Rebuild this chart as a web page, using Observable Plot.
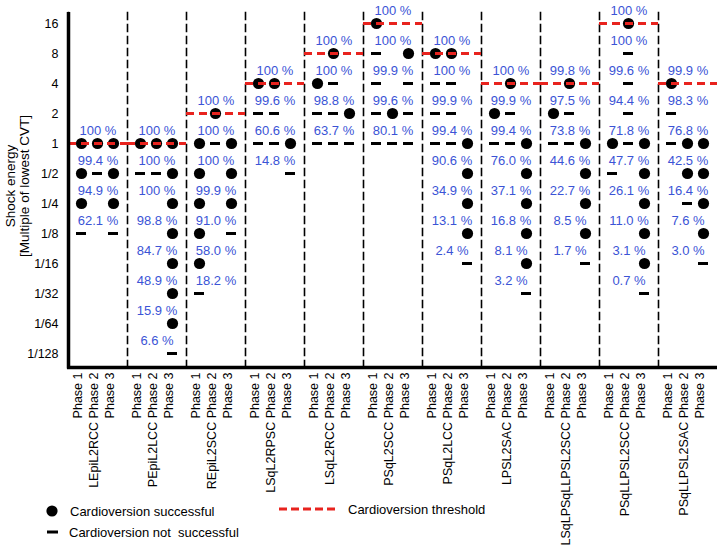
<!DOCTYPE html>
<html>
<head>
<meta charset="utf-8">
<script src="https://cdn.jsdelivr.net/npm/d3@7"></script>
<script src="https://cdn.jsdelivr.net/npm/@observablehq/plot@0.6"></script>
<style>
  html, body { margin: 0; padding: 0; background: #fff; }
  #wrap { position: relative; width: 720px; height: 553px; font-family: "Liberation Sans", Arial, Helvetica, sans-serif; }
  #overlay { position: absolute; left: 0; top: 0; pointer-events: none; }
  #overlay text { font-family: "Liberation Sans", Arial, Helvetica, sans-serif; fill: #000; }
</style>
</head>
<body>
<div id="wrap"></div>
<script>
// ---- data ----
const groups = ["LEpiL2RCC","PEpiL2LCC","REpiL2SCC","LSqL2RPSC","LSqL2RCC","PSqL2SCC","PSqL2LCC","LPSL2SAC","LSqLPSqLLPSL2SCC","PSqLLPSL2SCC","PSqLLPSL2SAC"];
const phases = ["Phase 1","Phase 2","Phase 3"];
const levels = ["16","8","4","2","1","1/2","1/4","1/8","1/16","1/32","1/64","1/128"];
// cardioversion threshold (first row) of each group
const thresholds = ["1","1","2","4","8","16","8","4","4","16","4"];
// percentages, one per energy level from the threshold downward
const percents = [
  ["100 %","99.4 %","94.9 %","62.1 %"],
  ["100 %","100 %","100 %","98.8 %","84.7 %","48.9 %","15.9 %","6.6 %"],
  ["100 %","100 %","100 %","99.9 %","91.0 %","58.0 %","18.2 %"],
  ["100 %","99.6 %","60.6 %","14.8 %"],
  ["100 %","100 %","98.8 %","63.7 %"],
  ["100 %","100 %","99.9 %","99.6 %","80.1 %"],
  ["100 %","100 %","99.9 %","99.4 %","90.6 %","34.9 %","13.1 %","2.4 %"],
  ["100 %","99.9 %","99.4 %","76.0 %","37.1 %","16.8 %","8.1 %","3.2 %"],
  ["99.8 %","97.5 %","73.8 %","44.6 %","22.7 %","8.5 %","1.7 %"],
  ["100 %","100 %","99.6 %","94.4 %","71.8 %","47.7 %","26.1 %","11.0 %","3.1 %","0.7 %"],
  ["99.9 %","98.3 %","76.8 %","42.5 %","16.4 %","7.6 %","3.0 %"]
];
// outcome per phase at each level: o = successful, - = not successful, . = not tested
const outcomes = [
  ["ooo","o-o","o.o","-.-"],
  ["ooo","--o","..o","..o","..o","..o","..o","..-"],
  [".o.","o-o","o.o","o.o","o.-","o..","-.."],
  ["oo.","--.","--o","..-"],
  [".o.","o-.","--o","---"],
  ["o..","-.o","-.-","-o-","---"],
  ["oo.","--.","--.","--o","..o","..o","..o","..-"],
  [".o.","o-.","--o","..o","..o","..o","..o","..-"],
  [".o.","o-.","--o","..o","..o","..o","..-"],
  [".o.",".-.",".-.",".-.","o-o","-.o","..o","..o","..o","..-"],
  ["o..","-..","-oo",".oo",".-o","..o","..-"]
];

// ---- derived tables ----
const cells = [], pctRows = [], thr = [];
groups.forEach((g, gi) => {
  const s = levels.indexOf(thresholds[gi]);
  thr.push({group: g, level: thresholds[gi]});
  percents[gi].forEach((p, k) => {
    const lv = levels[s + k];
    pctRows.push({group: g, level: lv, text: p});
    [...outcomes[gi][k]].forEach((c, pi) => {
      if (c !== ".") cells.push({group: g, level: lv, phase: phases[pi], ok: c === "o"});
    });
  });
});
const xLabels = groups.flatMap(g => phases.map(p => ({group: g, phase: p, text: p === "Phase 2" ? `${g} ${p}` : p})));

const RED = "#e8231e", BLUE = "#3b54d6";
const W = 720, H = 553, ML = 68, MR = 3, MT = 12, MB = 186;

const chart = Plot.plot({
  width: W,
  height: H,
  marginLeft: ML,
  marginRight: MR,
  marginTop: MT,
  marginBottom: MB,
  style: {fontFamily: "Liberation Sans, Arial, Helvetica, sans-serif", fontSize: "12.5px", background: "#fff", color: "#000", overflow: "visible"},
  fx: {domain: groups, padding: 0, axis: null, label: null},
  x: {type: "band", domain: phases, paddingInner: 0.36, paddingOuter: 0.47, axis: null, label: null},
  y: {type: "point", domain: levels, padding: 0, insetTop: 8, insetBottom: 12, tickSize: 0, tickPadding: 10, label: null},
  marks: [
    Plot.frame({anchor: "left", stroke: "#000", strokeWidth: 1.6, strokeDasharray: "7,5"}),
    Plot.tickY(cells.filter(d => !d.ok), {fx: "group", x: "phase", y: "level", stroke: "#000", strokeWidth: 3}),
    Plot.dot(cells.filter(d => d.ok), {fx: "group", x: "phase", y: "level", r: 5.6, fill: "#000", stroke: null}),
    Plot.ruleY(thr, {fx: "group", y: "level", stroke: RED, strokeWidth: 3, strokeDasharray: "8,5"}),
    Plot.text(pctRows, {fx: "group", y: "level", text: "text", dy: -13, fill: BLUE, fontSize: 13}),
    Plot.text(xLabels, {fx: "group", x: "phase", text: "text", frameAnchor: "bottom", rotate: -90, textAnchor: "end", dy: 5, fontSize: 12.5, fill: "#000"})
  ]
});

const wrap = document.getElementById("wrap");
wrap.appendChild(chart);

// overlay: axis lines, y title and legend
const ns = "http://www.w3.org/2000/svg";
const ov = document.createElementNS(ns, "svg");
ov.setAttribute("id", "overlay");
ov.setAttribute("width", W);
ov.setAttribute("height", H);
ov.innerHTML = `
  <line x1="${ML + 0.5}" x2="${ML + 0.5}" y1="${MT}" y2="${H - MB + 1.5}" stroke="#000" stroke-width="3.5"></line>
  <line x1="${ML - 1}" x2="${W - MR}" y1="${H - MB + 0.5}" y2="${H - MB + 0.5}" stroke="#000" stroke-width="3.5"></line>
  <text transform="translate(14.5,186) rotate(-90)" text-anchor="middle" font-size="13.5">Shock energy</text>
  <text transform="translate(28.5,186) rotate(-90)" text-anchor="middle" font-size="13.5">[Multiple of lowest CVT]</text>
  <circle cx="52" cy="511" r="5.6" fill="#000"></circle>
  <text x="70" y="511" dy="0.35em" font-size="13">Cardioversion successful</text>
  <line x1="47" x2="58" y1="532" y2="532" stroke="#000" stroke-width="3"></line>
  <text x="69" y="532" dy="0.35em" font-size="13" style="white-space:pre">Cardioversion not  successful</text>
  <line x1="279" x2="338" y1="509" y2="509" stroke="${RED}" stroke-width="3" stroke-dasharray="8,4"></line>
  <text x="348" y="509" dy="0.35em" font-size="13">Cardioversion threshold</text>
`;
wrap.appendChild(ov);
</script>
</body>
</html>
